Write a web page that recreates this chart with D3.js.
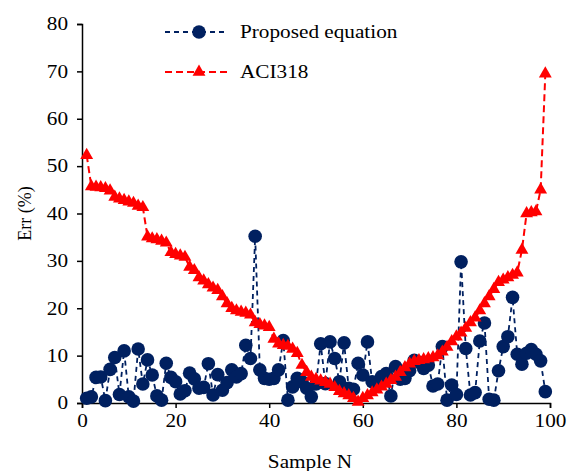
<!DOCTYPE html>
<html>
<head>
<meta charset="utf-8">
<script src="https://cdn.jsdelivr.net/npm/d3@7"></script>
<style>
  body { margin: 0; background: #fff; }
  text { font-family: "Liberation Serif", "Times New Roman", serif; }
</style>
</head>
<body>
<div id="chart"></div>
<script>
// values, sample 1..99
const proposed = [1.0, 1.3, 5.4, 5.5, 0.5, 7.1, 9.6, 1.8, 11.0, 1.3,
    0.4, 11.4, 4.0, 9.1, 5.9, 1.5, 0.6, 8.4, 5.4, 4.5,
    1.9, 2.6, 6.3, 5.1, 3.1, 3.3, 8.3, 1.7, 6.0, 2.7,
    4.3, 7.0, 5.5, 6.2, 12.2, 9.4, 35.2, 7.0, 5.2, 5.0,
    5.2, 7.0, 13.2, 0.6, 3.4, 5.2, 4.5, 3.1, 1.3, 4.0,
    12.5, 4.1, 12.9, 9.4, 4.5, 12.7, 3.1, 2.9, 8.4, 5.9,
    12.9, 4.5, 3.8, 5.6, 6.2, 1.5, 7.7, 5.0, 5.2, 6.8,
    9.0, 8.6, 7.3, 8.0, 3.6, 4.0, 11.9, 0.6, 3.8, 1.8,
    29.8, 11.5, 1.7, 2.2, 13.1, 16.9, 0.8, 0.6, 6.8, 11.9,
    14.0, 22.3, 10.3, 8.2, 10.5, 11.3, 10.3, 8.9, 2.4]

const aci318 = [52.3, 45.7, 45.6, 45.5, 45.3, 44.8, 43.5, 43.1, 42.8, 42.5,
    42.2, 41.6, 41.3, 35.1, 34.7, 34.5, 34.2, 33.8, 31.8, 31.4,
    31.1, 30.8, 28.7, 28.0, 26.5, 25.8, 25.0, 24.3, 23.8, 22.5,
    21.0, 20.0, 19.5, 19.2, 19.0, 18.6, 17.0, 16.6, 16.3, 16.0,
    13.5, 12.5, 12.2, 12.0, 11.4, 10.5, 8.0, 6.5, 5.5, 5.0,
    4.7, 4.4, 4.0, 3.3, 2.5, 2.0, 1.6, 1.0, 0.2, 1.0,
    1.6, 2.2, 2.8, 3.4, 4.0, 4.8, 5.5, 6.5, 7.5, 8.3,
    8.8, 9.0, 9.2, 9.4, 9.6, 10.0, 10.8, 11.8, 13.0, 14.0,
    14.8, 15.8, 17.0, 18.0, 19.5, 21.0, 22.5, 24.0, 25.5, 26.0,
    26.5, 27.0, 27.5, 32.3, 40.0, 40.2, 40.4, 45.0, 69.5]

const xTicks = [0, 20, 40, 60, 80, 100]
const yTicks = [0, 10, 20, 30, 40, 50, 60, 70, 80]
const seriesNames = ["Proposed equation", "ACI318"]

const width = 569, height = 471
const margin = { top: 24, right: 19, bottom: 68, left: 82 }
const innerW = width - margin.left - margin.right,
    innerH = height - margin.top - margin.bottom

const blue = "#002060", red = "#ff0000"
// the reference text is a bit wider than normal Times, stretch it sideways
const stretch = 1.18
const widen = (ax) => `translate(${ax},0) scale(${stretch},1) translate(${-ax},0)`

const svg = d3.select("#chart")
    .append("svg")
    .attr("width", width)
    .attr("height", height)

const g = svg.append("g")
    .attr("transform", "translate(" + margin.left + "," + margin.top + ")")

const x = d3.scaleLinear().domain([0, 100]).range([0, innerW])
const y = d3.scaleLinear().domain([0, 80]).range([innerH, 0])

// axes
const xAxis = g.append("g")
    .attr("transform", `translate(0, ${innerH})`)
    .call(d3.axisBottom(x).tickValues(xTicks).tickSize(5).tickPadding(6))
const yAxis = g.append("g")
    .call(d3.axisLeft(y).tickValues(yTicks).tickSize(5).tickPadding(9))

;[xAxis, yAxis].forEach(ax => {
    ax.select(".domain").attr("stroke", "#000").attr("stroke-width", 1.5)
    ax.selectAll(".tick line").attr("stroke", "#000").attr("stroke-width", 1.5)
    ax.selectAll("text")
        .attr("fill", "#000")
        .style("font-family", "'Liberation Serif', serif")
        .style("font-size", "18px")
})
xAxis.selectAll("text").attr("transform", widen(0))
yAxis.selectAll("text").attr("transform", widen(-14))

// axis titles
svg.append("text")
    .attr("x", 310)
    .attr("y", 468)
    .attr("text-anchor", "middle")
    .attr("transform", widen(310))
    .style("font-size", "18px")
    .text("Sample N")

svg.append("text")
    .attr("transform", "translate(31," + (margin.top + innerH / 2) + ") rotate(-90)")
    .attr("text-anchor", "middle")
    .style("font-size", "18px")
    .text("Err (%)")

const idx = d3.range(1, 100)
const line = d3.line()
    .x(d => x(d[0]))
    .y(d => y(d[1]))

const bluePts = idx.map((n, i) => [n, proposed[i]])
const redPts = idx.map((n, i) => [n, aci318[i]])

// proposed equation
g.append("path")
    .datum(bluePts)
    .attr("fill", "none")
    .attr("stroke", blue)
    .attr("stroke-width", 1.8)
    .attr("stroke-dasharray", "5,4")
    .attr("d", line)

g.selectAll(".dot")
    .data(bluePts)
    .enter()
    .append("circle")
    .attr("class", "dot")
    .attr("cx", d => x(d[0]))
    .attr("cy", d => y(d[1]))
    .attr("r", 6.8)
    .attr("fill", blue)

// ACI318
g.append("path")
    .datum(redPts)
    .attr("fill", "none")
    .attr("stroke", red)
    .attr("stroke-width", 2)
    .attr("stroke-dasharray", "7,4")
    .attr("d", line)

const tri = d3.symbol().type(d3.symbolTriangle).size(72)
g.selectAll(".tri")
    .data(redPts)
    .enter()
    .append("path")
    .attr("class", "tri")
    .attr("transform", d => `translate(${x(d[0])},${y(d[1])})`)
    .attr("d", tri)
    .attr("fill", red)

// legend
const legend = svg.append("g")
const legendRows = [
    { name: seriesNames[0], color: blue, dash: "5,4", y: 32, marker: "circle" },
    { name: seriesNames[1], color: red, dash: "7,4", y: 72, marker: "tri" }
]
legendRows.forEach(r => {
    legend.append("line")
        .attr("x1", 165).attr("x2", 228)
        .attr("y1", r.y).attr("y2", r.y)
        .attr("stroke", r.color)
        .attr("stroke-width", 2)
        .attr("stroke-dasharray", r.dash)
    if (r.marker === "circle") {
        legend.append("circle")
            .attr("cx", 199).attr("cy", r.y).attr("r", 6.8)
            .attr("fill", r.color)
    } else {
        legend.append("path")
            .attr("transform", `translate(199,${r.y})`)
            .attr("d", tri)
            .attr("fill", r.color)
    }
    legend.append("text")
        .attr("x", 240)
        .attr("y", r.y + 6)
        .attr("transform", widen(240))
        .style("font-size", "18px")
        .text(r.name)
})
</script>
</body>
</html>
